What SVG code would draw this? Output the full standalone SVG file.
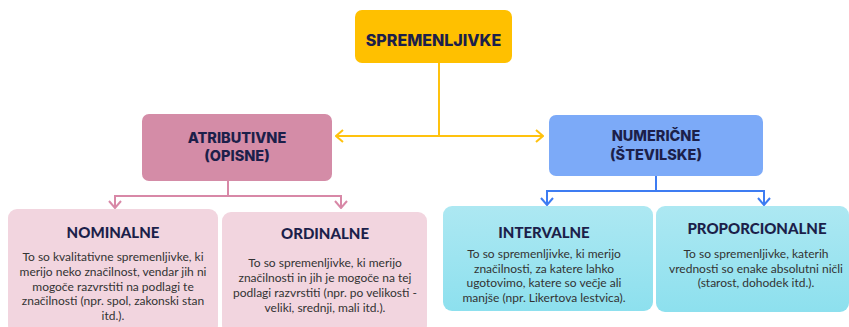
<svg xmlns="http://www.w3.org/2000/svg" width="849" height="327" viewBox="0 0 849 327">
  <defs>
    <style>
      .head { font-family: Inter, "Open Sans", sans-serif; font-weight: 800; fill: #1c1f4a; text-anchor: middle; }
      .title { font-family: Lato, "Open Sans", sans-serif; font-weight: 900; font-size: 15px; fill: #1c1f4a; text-anchor: middle; }
      .body { font-family: Lato, "Open Sans", sans-serif; font-size: 12px; fill: #333333; text-anchor: middle; }
      .link { fill: none; stroke-width: 2; }
    </style>
    <linearGradient id="cyan" x1="0" y1="0" x2="0" y2="1">
      <stop offset="0" stop-color="#ade8f2"/>
      <stop offset="1" stop-color="#8de0ee"/>
    </linearGradient>
    <marker id="arrowYellow" viewBox="0 0 10 14" refX="9" refY="7" markerWidth="10" markerHeight="14" markerUnits="userSpaceOnUse" orient="auto-start-reverse">
      <path d="M2,1 L9,7 L2,13" fill="none" stroke="#ffc20e" stroke-width="2"/>
    </marker>
    <marker id="arrowPink" viewBox="0 0 10 14" refX="9" refY="7" markerWidth="10" markerHeight="14" markerUnits="userSpaceOnUse" orient="auto-start-reverse">
      <path d="M2,1 L9,7 L2,13" fill="none" stroke="#d888a7" stroke-width="2"/>
    </marker>
    <marker id="arrowBlue" viewBox="0 0 10 14" refX="9" refY="7" markerWidth="10" markerHeight="14" markerUnits="userSpaceOnUse" orient="auto-start-reverse">
      <path d="M2,1 L9,7 L2,13" fill="none" stroke="#3d7cf2" stroke-width="2"/>
    </marker>
  </defs>

  <rect width="849" height="327" fill="#ffffff"/>

  <!-- connectors -->
  <g id="connectors">
    <path class="link" stroke="#ffc20e" d="M439,63 V136"/>
    <path class="link" stroke="#ffc20e" d="M336,136 H543" marker-start="url(#arrowYellow)" marker-end="url(#arrowYellow)"/>
    <path class="link" stroke="#d888a7" d="M228,181 V196"/>
    <path class="link" stroke="#d888a7" d="M115,208 V196 H341 V208" marker-start="url(#arrowPink)" marker-end="url(#arrowPink)"/>
    <path class="link" stroke="#3d7cf2" d="M656,176 V191"/>
    <path class="link" stroke="#3d7cf2" d="M547,205 V191 H764 V205" marker-start="url(#arrowBlue)" marker-end="url(#arrowBlue)"/>
  </g>

  <!-- root -->
  <g id="spremenljivke">
    <rect x="355" y="10" width="157" height="53" rx="7" fill="#ffc000"/>
    <text class="head" x="433.5" y="46" font-size="16">SPREMENLJIVKE</text>
  </g>

  <!-- second level -->
  <g id="atributivne">
    <rect x="142" y="114" width="190" height="67" rx="7" fill="#d48ca7"/>
    <text class="head" x="237" y="142.5" font-size="14.5">ATRIBUTIVNE</text>
    <text class="head" x="237" y="161" font-size="14.5">(OPISNE)</text>
  </g>

  <g id="numericne">
    <rect x="549" y="115" width="214" height="61" rx="7" fill="#7caaf8"/>
    <text class="head" x="656" y="141" font-size="14.5">NUMERIČNE</text>
    <text class="head" x="656" y="160" font-size="14.5">(ŠTEVILSKE)</text>
  </g>

  <!-- leaves -->
  <g id="nominalne">
    <rect x="8" y="209" width="210" height="125" rx="9" fill="#f2d5df"/>
    <text class="title" x="113" y="237.5">NOMINALNE</text>
    <text class="body" x="113" y="261">To so kvalitativne spremenljivke, ki</text>
    <text class="body" x="113" y="275.8">merijo neko značilnost, vendar jih ni</text>
    <text class="body" x="113" y="290.6">mogoče razvrstiti na podlagi te</text>
    <text class="body" x="113" y="305.4">značilnosti (npr. spol, zakonski stan</text>
    <text class="body" x="113" y="320.2">itd.).</text>
  </g>

  <g id="ordinalne">
    <rect x="222" y="212" width="205" height="122" rx="9" fill="#f2d5df"/>
    <text class="title" x="325" y="238.5">ORDINALNE</text>
    <text class="body" x="325" y="267">To so spremenljivke, ki merijo</text>
    <text class="body" x="325" y="282">značilnosti in jih je mogoče na tej</text>
    <text class="body" x="325" y="297">podlagi razvrstiti (npr. po velikosti -</text>
    <text class="body" x="325" y="312">veliki, srednji, mali itd.).</text>
  </g>

  <g id="intervalne">
    <rect x="443" y="206" width="210" height="105" rx="9" fill="url(#cyan)"/>
    <text class="title" x="544" y="237.5">INTERVALNE</text>
    <text class="body" x="544" y="258">To so spremenljivke, ki merijo</text>
    <text class="body" x="544" y="272.5">značilnosti, za katere lahko</text>
    <text class="body" x="544" y="287">ugotovimo, katere so večje ali</text>
    <text class="body" x="544" y="301.5">manjše (npr. Likertova lestvica).</text>
  </g>

  <g id="proporcionalne">
    <rect x="656" y="206" width="193" height="106" rx="9" fill="url(#cyan)"/>
    <text class="title" x="757" y="233.5">PROPORCIONALNE</text>
    <text class="body" x="756" y="258">To so spremenljivke, katerih</text>
    <text class="body" x="756" y="272.5">vrednosti so enake absolutni ničli</text>
    <text class="body" x="756" y="287">(starost, dohodek itd.).</text>
  </g>
</svg>
